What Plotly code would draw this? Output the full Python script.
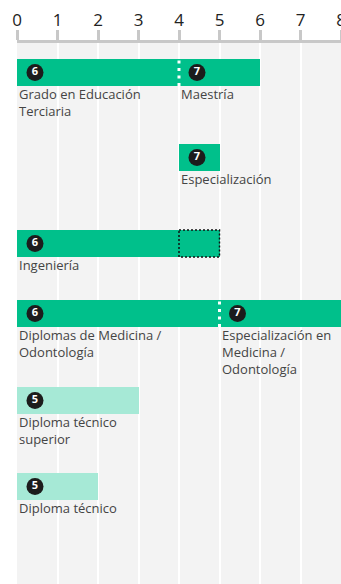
import plotly.graph_objects as go

# Data ---------------------------------------------
labels = ["Grado en Educación<br>Terciaria", "Maestría", "Especialización", "Ingeniería",
          "Diplomas de Medicina /<br>Odontología", "Especialización en<br>Medicina /<br>Odontología",
          "Diploma técnico<br>superior", "Diploma técnico"]
start_year = [0, 4, 4, 0, 0, 5, 0, 0]
duration = [4, 2, 1, 4, 5, 3, 3, 2]
isced_level = [6, 7, 7, 6, 6, 7, 5, 5]
row = [0, 0, 1, 2, 3, 3, 4, 5]

# optional extra year (dotted box)
opt_start = [4]
opt_duration = [1]
opt_row = [2]

tick_vals = [0, 1, 2, 3, 4, 5, 6, 7, 8]

# Layout -------------------------------------------
W, H = 341, 584
ML, MT = 17, 43
row_y = [29.5, 114.5, 200.5, 270.5, 357.5, 443.5]  # row centres, px from plot top
bar_h = 27
px_per_unit = (W - ML) / 8
green = "#00c08b"
mint = "#a6e9d6"
font = "'Open Sans', sans-serif"

colors = [mint if lv == 5 else green for lv in isced_level]
ys = [row_y[r] for r in row]

fig = go.Figure()

fig.add_trace(go.Bar(
    orientation="h", y=ys, x=duration, base=start_year, width=bar_h,
    marker=dict(color=colors, line=dict(width=0)), hoverinfo="skip", showlegend=False,
))

# optional part of Ingeniería
fig.add_trace(go.Bar(
    orientation="h", y=[row_y[r] for r in opt_row], x=opt_duration, base=opt_start, width=bar_h,
    marker=dict(color=green, line=dict(width=0)), hoverinfo="skip", showlegend=False,
))
for s, d, r in zip(opt_start, opt_duration, opt_row):
    fig.add_shape(type="rect", x0=s, x1=s + d, y0=row_y[r] - bar_h / 2, y1=row_y[r] + bar_h / 2,
                  line=dict(color="#111111", width=1.5, dash="2px,2px"))

# dotted white dividers between consecutive segments
for i in range(len(labels)):
    for j in range(len(labels)):
        if row[i] == row[j] and start_year[i] + duration[i] == start_year[j]:
            y = row_y[row[j]]
            fig.add_shape(type="line", x0=start_year[j], x1=start_year[j],
                          y0=y - bar_h / 2 + 1.5, y1=y + bar_h / 2,
                          line=dict(color="white", width=3, dash="3px,4.5px"))

# level badges
fig.add_trace(go.Scatter(
    x=[s + 18 / px_per_unit for s in start_year], y=ys, mode="markers+text",
    marker=dict(size=17, color="#1c1c1c", line=dict(width=0)),
    text=["<b>%d</b>" % lv for lv in isced_level], textposition="middle center",
    textfont=dict(color="white", size=11, family=font),
    hoverinfo="skip", showlegend=False, cliponaxis=False,
))

for lab, s, y in zip(labels, start_year, ys):
    fig.add_annotation(x=s, y=y + bar_h / 2, text=lab, showarrow=False,
                       xanchor="left", yanchor="top", align="left",
                       xshift=0, yshift=3,
                       font=dict(family=font, size=13, color="#444444"))

# small grey dot at the axis start
fig.add_shape(type="circle", xref="x", yref="y", xsizemode="pixel", ysizemode="pixel",
              xanchor=0, yanchor=0, x0=-12, x1=-8, y0=-4, y1=0,
              line=dict(width=0), fillcolor="#c8c8c8")

fig.update_layout(
    width=W, height=H,
    margin=dict(l=ML, r=0, t=MT, b=0, autoexpand=False),
    paper_bgcolor="white", plot_bgcolor="#f3f3f3",
    barmode="overlay", bargap=0,
    xaxis=dict(range=[0, 8], side="top", tickvals=tick_vals, automargin=False,
               ticklabeloverflow="allow", ticklabelstandoff=-3,
               showgrid=True, gridcolor="white", gridwidth=2, zeroline=False,
               showline=True, linecolor="#c8c8c8", linewidth=3,
               ticks="outside", ticklen=10, tickwidth=2.5, tickcolor="#c8c8c8",
               tickfont=dict(family=font, size=17, color="#222222"), fixedrange=True),
    yaxis=dict(range=[H - MT, 0], visible=False, fixedrange=True, automargin=False),
)

# drop the default page margin so the figure sits at the window's corner
fig.write_html("out.html", config={"displayModeBar": False},
               post_script="document.body.style.margin='0';document.body.style.overflow='hidden';")
